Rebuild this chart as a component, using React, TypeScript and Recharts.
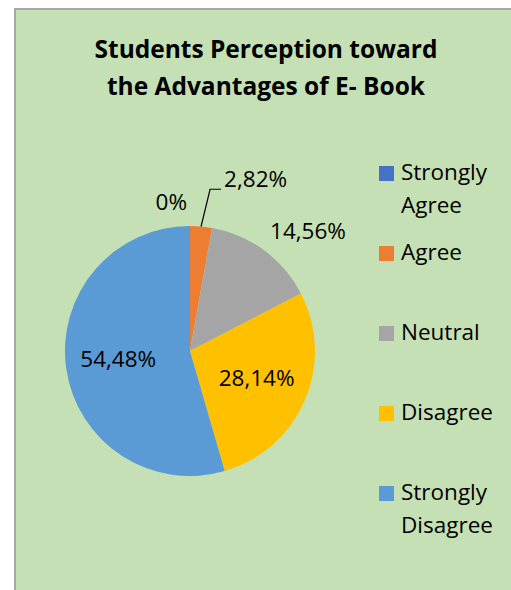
import { Legend, Pie, PieChart, Cell } from "recharts";

const categories = ["Strongly Agree", "Agree", "Neutral", "Disagree", "Strongly Disagree"];
const percents = [0, 2.82, 14.56, 28.14, 54.48];
const colors = ["#4472C4", "#ED7D31", "#A5A5A5", "#FFC000", "#5B9BD5"];

const data = categories.map((name, i) => ({ name, value: percents[i] }));

const FONT = "'Open Sans', Lato, sans-serif";
const RAD = Math.PI / 180;

function fmt(v: number) {
  if (v === 0) return "0%";
  return v.toFixed(2).replace(".", ",") + "%";
}

function renderLabel(props: any) {
  const { cx, cy, midAngle, outerRadius, value, index } = props;
  const cos = Math.cos(-midAngle * RAD);
  const sin = Math.sin(-midAngle * RAD);
  const txt = fmt(value);
  const style = { fontFamily: FONT, fontSize: 22.5, fill: "#000" };

  if (value === 0) {
    return (
      <text key={index} x={cx - 3} y={cy - outerRadius - 22} textAnchor="end" dominantBaseline="middle" style={style}>
        {txt}
      </text>
    );
  }
  if (value > 20) {
    const r = outerRadius * 0.58;
    return (
      <text key={index} x={cx + r * cos} y={cy + r * sin} textAnchor="middle" dominantBaseline="middle" style={style}>
        {txt}
      </text>
    );
  }
  if (value < 5) {
    // leader line for the thin slice
    const sx = cx + outerRadius * cos;
    const sy = cy + outerRadius * sin;
    const a2 = -(midAngle - 2) * RAD;
    const ex = cx + (outerRadius + 38) * Math.cos(a2);
    const ey = cy + (outerRadius + 38) * Math.sin(a2);
    return (
      <g key={index}>
        <polyline points={`${sx},${sy} ${ex},${ey} ${ex + 11},${ey}`} fill="none" stroke="#000" strokeWidth={1.2} />
        <text x={ex + 14} y={ey - 8} textAnchor="start" dominantBaseline="middle" style={style}>
          {txt}
        </text>
      </g>
    );
  }
  return (
    <text
      key={index}
      x={cx + (outerRadius + 10) * cos}
      y={cy + (outerRadius + 22) * sin}
      textAnchor="start"
      dominantBaseline="middle"
      style={style}
    >
      {txt}
    </text>
  );
}

function LegendBox({ payload }: any) {
  const items = [...(payload ?? [])].sort(
    (a: any, b: any) => categories.indexOf(a.value) - categories.indexOf(b.value)
  );
  return (
    <div style={{ fontFamily: FONT, fontSize: 22.5, color: "#000" }}>
      {items.map((p: any) => {
        const words = String(p.value).split(" ");
        return (
          <div key={p.value} style={{ position: "relative", height: 80 }}>
            <span
              style={{
                position: "absolute",
                left: 0,
                top: -7,
                width: 15,
                height: 15,
                background: p.color,
              }}
            />
            <div style={{ position: "absolute", left: 22, top: -18, lineHeight: "33px", whiteSpace: "nowrap" }}>
              {words.map((w) => (
                <div key={w}>{w}</div>
              ))}
            </div>
          </div>
        );
      })}
    </div>
  );
}

export default function App() {
  return (
    <div
      style={{
        position: "absolute",
        left: 14,
        top: 8,
        width: 497,
        height: 582,
        background: "#C5E0B4",
        borderLeft: "2px solid #A6A6A6",
        borderTop: "2px solid #A6A6A6",
        boxSizing: "border-box",
        overflow: "hidden",
      }}
    >
      <div
        style={{
          position: "absolute",
          left: -2,
          top: 20,
          width: 504,
          textAlign: "center",
          fontFamily: FONT,
          fontWeight: 700,
          fontSize: 24.5,
          lineHeight: "37px",
          color: "#000",
        }}
      >
        Students Perception toward
        <br />
        the Advantages of E- Book
      </div>
      <div style={{ position: "absolute", left: -2, top: -2 }}>
        <PieChart width={497} height={582} margin={{ top: 0, right: 0, bottom: 0, left: 0 }}>
          <Pie
            data={data}
            dataKey="value"
            nameKey="name"
            cx={176}
            cy={343}
            outerRadius={125}
            startAngle={90}
            endAngle={-270}
            stroke="none"
            label={renderLabel}
            labelLine={false}
            isAnimationActive={false}
          >
            {data.map((d, i) => (
              <Cell key={d.name} fill={colors[i]} />
            ))}
          </Pie>
          <Legend
            layout="vertical"
            align="right"
            verticalAlign="top"
            content={<LegendBox />}
            wrapperStyle={{ position: "absolute", left: 365, top: 165, width: 130 }}
          />
        </PieChart>
      </div>
    </div>
  );
}
